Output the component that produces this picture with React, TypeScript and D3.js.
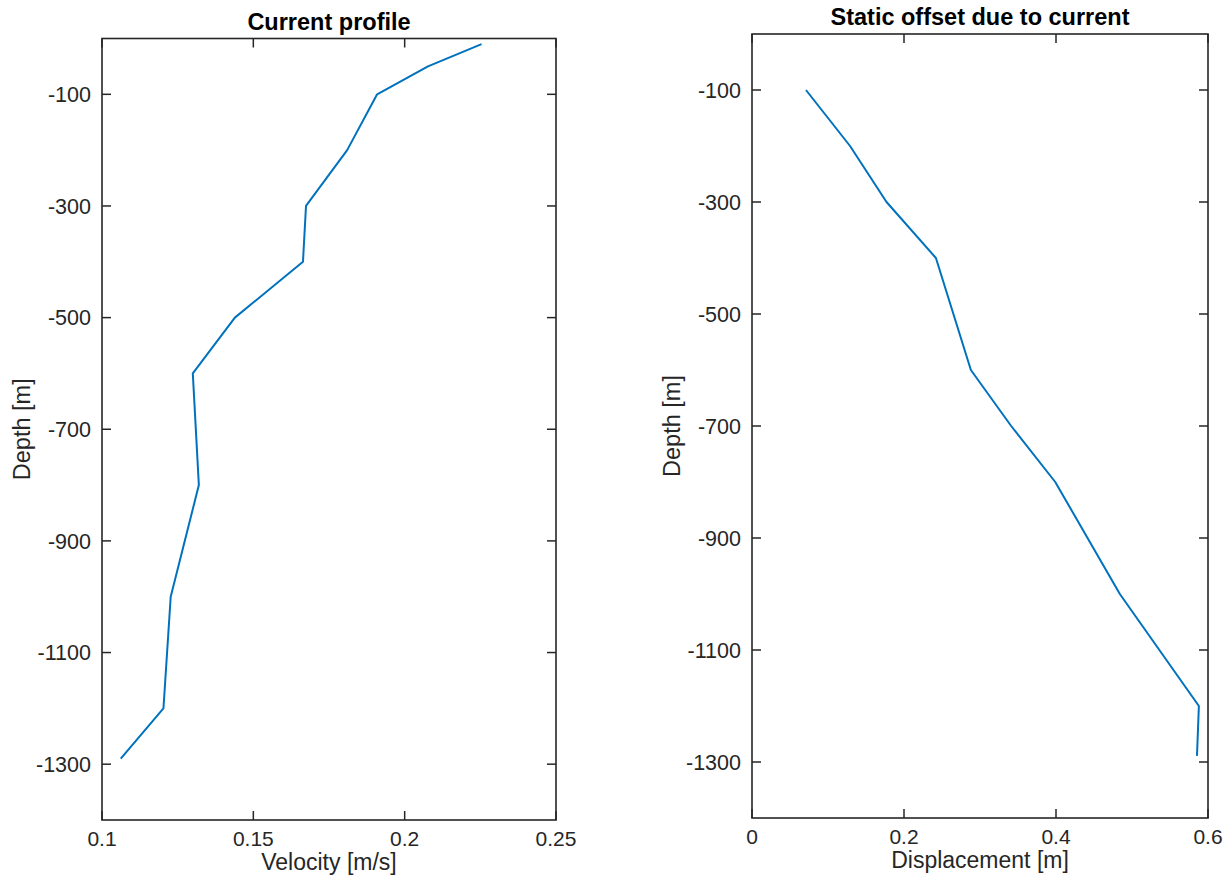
import React from "react";
import * as d3 from "d3";

// Current profile: velocity per depth
const currentDepth = [-10, -50, -100, -200, -300, -400, -500, -600, -800, -1000, -1200, -1290];
const currentVelocity = [0.2254, 0.2077, 0.1909, 0.181, 0.1674, 0.1664, 0.1439, 0.13, 0.132, 0.1227, 0.1203, 0.1062];

// Static offset: displacement per depth
const offsetDepth = [-100, -200, -300, -400, -600, -700, -800, -1000, -1200, -1289];
const offsetDisplacement = [0.071, 0.129, 0.177, 0.242, 0.288, 0.341, 0.399, 0.484, 0.588, 0.5855];

const depthTicks = [-100, -300, -500, -700, -900, -1100, -1300];
const velocityTicks = [0.1, 0.15, 0.2, 0.25];
const displacementTicks = [0, 0.2, 0.4, 0.6];

const AXIS = "#262626";
const LINE = "#0072BD";
const FONT = "'Liberation Sans', Arial, Helvetica, sans-serif";

type PanelProps = {
  left: number;
  right: number;
  top: number;
  bottom: number;
  xDomain: [number, number];
  xTicks: number[];
  xs: number[];
  ys: number[];
  title: string;
  xLabel: string;
  yLabel: string;
};

function Panel(p: PanelProps) {
  const x = d3.scaleLinear().domain(p.xDomain).range([p.left, p.right]);
  const y = d3.scaleLinear().domain([-1400, 0]).range([p.bottom, p.top]);
  const pts = p.xs.map((v, i) => [v, p.ys[i]] as [number, number]);
  const line = d3
    .line<[number, number]>()
    .x((d) => x(d[0]))
    .y((d) => y(d[1]));
  const fmt = d3.format("~g");
  const tl = 9;
  const cx = (p.left + p.right) / 2;
  const cy = (p.top + p.bottom) / 2;
  return (
    <g fontFamily={FONT}>
      <path d={line(pts) || ""} fill="none" stroke={LINE} strokeWidth={2} strokeLinejoin="round" />
      {p.xTicks.map((t) => (
        <g key={"x" + t}>
          <line x1={x(t)} x2={x(t)} y1={p.bottom} y2={p.bottom - tl} stroke={AXIS} strokeWidth={1.5} />
          <line x1={x(t)} x2={x(t)} y1={p.top} y2={p.top + tl} stroke={AXIS} strokeWidth={1.5} />
          <text x={x(t)} y={p.bottom + 26} textAnchor="middle" fontSize={21} fill={AXIS}>
            {fmt(t)}
          </text>
        </g>
      ))}
      {depthTicks.map((t) => (
        <g key={"y" + t}>
          <line x1={p.left} x2={p.left + tl} y1={y(t)} y2={y(t)} stroke={AXIS} strokeWidth={1.5} />
          <line x1={p.right} x2={p.right - tl} y1={y(t)} y2={y(t)} stroke={AXIS} strokeWidth={1.5} />
          <text x={p.left - 11} y={y(t)} dy="0.36em" textAnchor="end" fontSize={21.5} fill={AXIS}>
            {t}
          </text>
        </g>
      ))}
      <rect
        x={p.left}
        y={p.top}
        width={p.right - p.left}
        height={p.bottom - p.top}
        fill="none"
        stroke={AXIS}
        strokeWidth={1.6}
      />
      <text x={cx} y={p.top - 9} textAnchor="middle" fontSize={23.5} fontWeight="bold" fill="#000">
        {p.title}
      </text>
      <text x={cx} y={p.bottom + 50} textAnchor="middle" fontSize={23} fill={AXIS}>
        {p.xLabel}
      </text>
      <text
        transform={`translate(${p.left - 72},${cy}) rotate(-90)`}
        textAnchor="middle"
        fontSize={23.5}
        fill={AXIS}
      >
        {p.yLabel}
      </text>
    </g>
  );
}

export default function App() {
  return (
    <svg
      width={1228}
      height={876}
      style={{ position: "absolute", left: 0, top: 0, background: "#fff" }}
    >
      <rect width={1228} height={876} fill="#fff" />
      <Panel
        left={102}
        right={556}
        top={38.5}
        bottom={820}
        xDomain={[0.1, 0.25]}
        xTicks={velocityTicks}
        xs={currentVelocity}
        ys={currentDepth}
        title="Current profile"
        xLabel="Velocity [m/s]"
        yLabel="Depth [m]"
      />
      <Panel
        left={752}
        right={1208}
        top={34}
        bottom={818}
        xDomain={[0, 0.6]}
        xTicks={displacementTicks}
        xs={offsetDisplacement}
        ys={offsetDepth}
        title="Static offset due to current"
        xLabel="Displacement [m]"
        yLabel="Depth [m]"
      />
    </svg>
  );
}
